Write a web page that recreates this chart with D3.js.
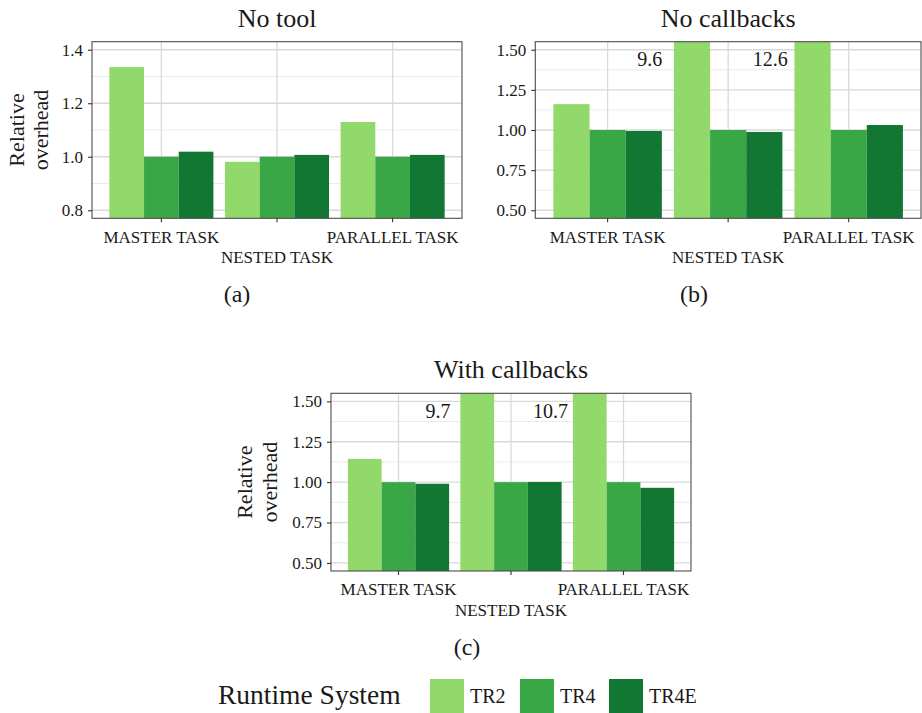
<!DOCTYPE html>
<html>
<head>
<meta charset="utf-8">
<script src="https://cdn.jsdelivr.net/npm/d3@7"></script>
<style>
  html, body { margin: 0; padding: 0; background: #fff; }
  svg { display: block; }
  text { font-family: "Liberation Serif", "Times New Roman", serif; fill: #1a1a1a; }
</style>
</head>
<body>
<svg id="chart" width="922" height="713"></svg>
<script>
// ---------------- DATA ----------------
const categories = ["MASTER TASK", "NESTED TASK", "PARALLEL TASK"];
const series = ["TR2", "TR4", "TR4E"];
const seriesColors = ["#91d96a", "#3aa746", "#117733"];

const noToolTR2  = [1.335, 0.981, 1.130];
const noToolTR4  = [1.000, 1.000, 1.000];
const noToolTR4E = [1.019, 1.007, 1.007];

const noCbTR2  = [1.161, 9.6, 12.6];
const noCbTR4  = [1.000, 1.000, 1.000];
const noCbTR4E = [0.994, 0.988, 1.031];

const withCbTR2  = [1.144, 9.7, 10.7];
const withCbTR4  = [1.000, 1.000, 1.000];
const withCbTR4E = [0.990, 1.001, 0.965];

const ticksA  = [0.8, 1.0, 1.2, 1.4];
const minorA  = [0.9, 1.1, 1.3];
const ticksBC = [0.5, 0.75, 1.0, 1.25, 1.5];
const minorBC = [0.625, 0.875, 1.125, 1.375];

const panelTitles = ["No tool", "No callbacks", "With callbacks"];
const subLabels = ["(a)", "(b)", "(c)"];
const legendTitle = "Runtime System";

// ---------------- DRAW ----------------
const svg = d3.select("#chart");

function drawPanel(cfg) {
  const {left, right, top, bottom, domain, ticks, minor, fmt, values, title, sub, subX, yTitle, id} = cfg;
  const W = right - left, H = bottom - top;
  const g = svg.append("g").attr("transform", `translate(${left},${top})`);

  const x = d3.scaleBand().domain(categories).range([0, W]).paddingInner(0).paddingOuter(0.1);
  const step = x.step();
  const xs = d3.scaleBand().domain(series).range([0.05 * step, 0.95 * step]).padding(0);
  const y = d3.scaleLinear().domain(domain).range([H, 0]);

  // grid
  g.selectAll(".minor").data(minor).join("line")
    .attr("x1", 0).attr("x2", W).attr("y1", d => y(d)).attr("y2", d => y(d))
    .attr("stroke", "#ebebeb").attr("stroke-width", 1);
  g.selectAll(".majorY").data(ticks).join("line")
    .attr("x1", 0).attr("x2", W).attr("y1", d => y(d)).attr("y2", d => y(d))
    .attr("stroke", "#d9d9d9").attr("stroke-width", 1.3);
  g.selectAll(".majorX").data(categories).join("line")
    .attr("x1", d => x(d) + step / 2).attr("x2", d => x(d) + step / 2)
    .attr("y1", 0).attr("y2", H)
    .attr("stroke", "#d9d9d9").attr("stroke-width", 1.3);

  // clip
  svg.append("clipPath").attr("id", "clip" + id)
    .append("rect").attr("x", 0).attr("y", 0).attr("width", W).attr("height", H);

  const flat = [];
  categories.forEach((c, i) => series.forEach((s, j) => flat.push({c, s, j, v: values[j][i]})));

  g.append("g").attr("clip-path", `url(#clip${id})`)
    .selectAll("rect").data(flat).join("rect")
    .attr("x", d => x(d.c) + xs(d.s))
    .attr("width", xs.bandwidth())
    .attr("y", d => y(d.v))
    .attr("height", d => Math.max(0, H + 5 - y(d.v)))
    .attr("fill", d => seriesColors[d.j]);

  // labels for clipped bars
  const over = flat.filter(d => d.v > domain[1]);
  g.selectAll(".over").data(over).join("text")
    .attr("x", d => x(d.c) + step / 2 - 0.65 * step)
    .attr("y", y(1.5) + 16.5)
    .attr("text-anchor", "middle")
    .attr("font-size", 20)
    .text(d => d3.format(".1f")(d.v));

  // border
  g.append("rect").attr("x", 0).attr("y", 0).attr("width", W).attr("height", H)
    .attr("fill", "none").attr("stroke", "#4d4d4d").attr("stroke-width", 1.1);

  // y axis
  const ya = g.append("g").call(d3.axisLeft(y).tickValues(ticks).tickFormat(d3.format(fmt)).tickSize(4).tickPadding(5));
  ya.select(".domain").remove();
  ya.selectAll("line").attr("stroke", "#333").attr("stroke-width", 1.1);
  ya.selectAll("text").attr("font-size", 17).attr("fill", "#1a1a1a")
    .attr("font-family", '"Liberation Serif", serif');

  // x axis
  const xa = g.append("g").attr("transform", `translate(0,${H})`)
    .call(d3.axisBottom(x).tickSize(4));
  xa.select(".domain").remove();
  xa.selectAll("line").attr("stroke", "#333").attr("stroke-width", 1.1);
  xa.selectAll("text").attr("font-size", 17).attr("fill", "#1a1a1a")
    .attr("font-family", '"Liberation Serif", serif')
    .attr("dy", 0)
    .attr("y", (d, i) => i % 2 ? 45 : 24.4);

  // title
  g.append("text").attr("x", W / 2).attr("y", -15).attr("text-anchor", "middle")
    .attr("font-size", 26).text(title);

  // y title
  if (yTitle) {
    const cy = top + H / 2;
    svg.append("text").attr("transform", `translate(${yTitle[0]},${cy}) rotate(-90)`)
      .attr("text-anchor", "middle").attr("font-size", 22).text("Relative");
    svg.append("text").attr("transform", `translate(${yTitle[1]},${cy}) rotate(-90)`)
      .attr("text-anchor", "middle").attr("font-size", 22).text("overhead");
  }

  // sub label
  svg.append("text").attr("x", subX).attr("y", bottom + 84).attr("text-anchor", "middle")
    .attr("font-size", 24).text(sub);
}

drawPanel({id: "a", left: 92, right: 462, top: 41.7, bottom: 218.3, domain: [0.77, 1.43],
  ticks: ticksA, minor: minorA, fmt: ".1f", values: [noToolTR2, noToolTR4, noToolTR4E],
  title: panelTitles[0], sub: subLabels[0], subX: 237, yTitle: [24, 48]});
drawPanel({id: "b", left: 535.3, right: 921, top: 41.7, bottom: 218.3, domain: [0.45, 1.55],
  ticks: ticksBC, minor: minorBC, fmt: ".2f", values: [noCbTR2, noCbTR4, noCbTR4E],
  title: panelTitles[1], sub: subLabels[1], subX: 694, yTitle: null});
drawPanel({id: "c", left: 331, right: 691, top: 393.3, bottom: 571, domain: [0.45, 1.55],
  ticks: ticksBC, minor: minorBC, fmt: ".2f", values: [withCbTR2, withCbTR4, withCbTR4E],
  title: panelTitles[2], sub: subLabels[2], subX: 467, yTitle: [252, 277]});

// legend
const lg = svg.append("g");
lg.append("text").attr("x", 218).attr("y", 704).attr("font-size", 27.5).text(legendTitle);
const swX = [430, 520, 609];
series.forEach((s, i) => {
  lg.append("rect").attr("x", swX[i]).attr("y", 679).attr("width", 34).attr("height", 34)
    .attr("fill", seriesColors[i]);
  lg.append("text").attr("x", swX[i] + 40).attr("y", 703).attr("font-size", 20).text(s);
});
</script>
</body>
</html>
